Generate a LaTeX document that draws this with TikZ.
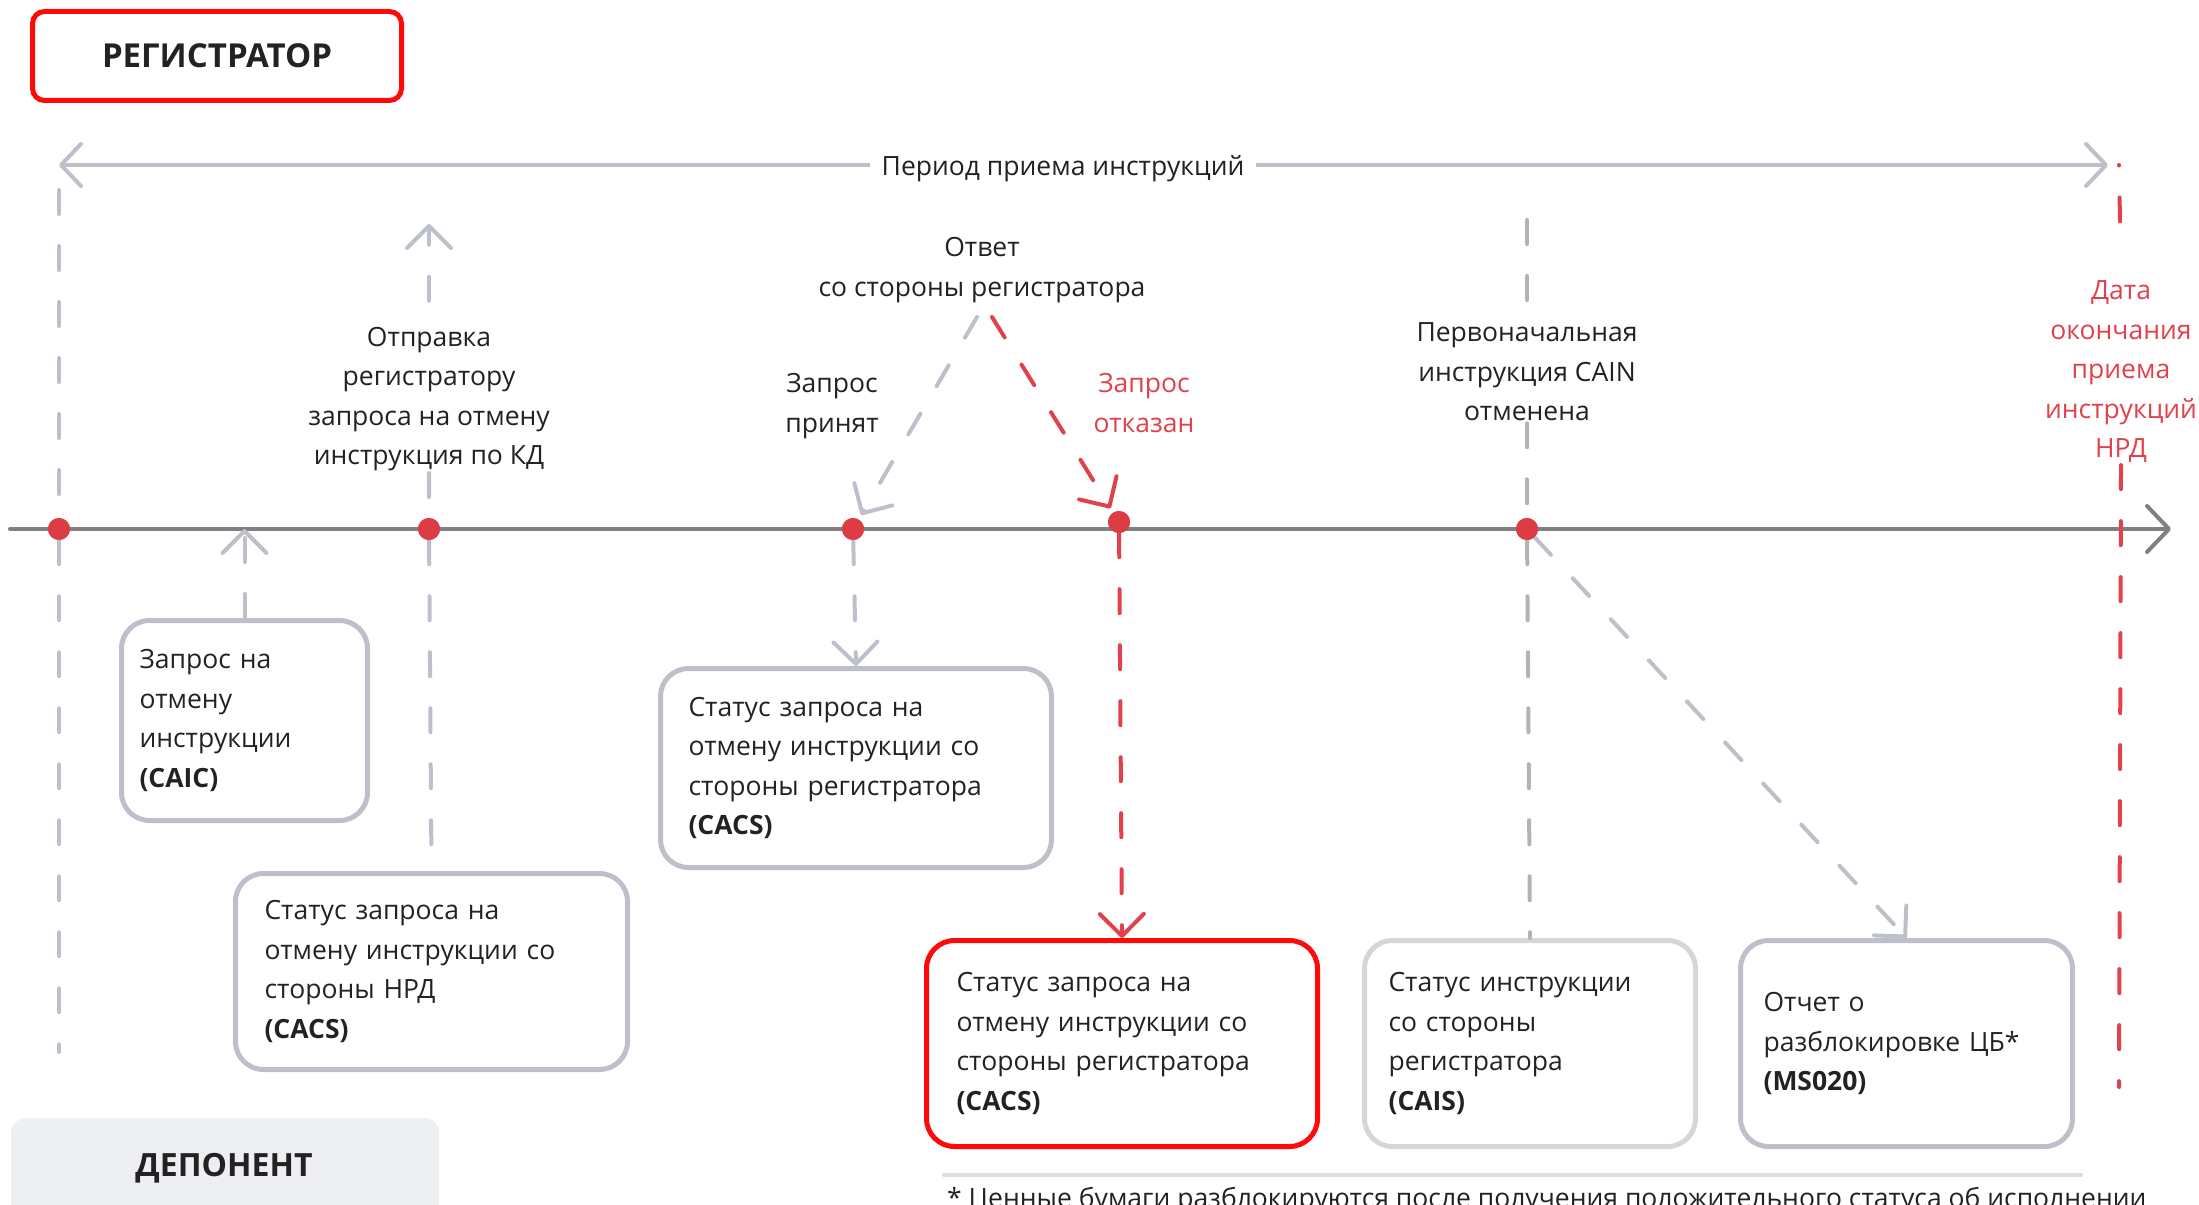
\documentclass[tikz,border=0pt]{standalone}
\usepackage{fontspec}
\setmainfont{Open Sans}
\usetikzlibrary{arrows.meta}
\definecolor{redd}{HTML}{DC3C44}
\definecolor{redt}{HTML}{E0414A}
\definecolor{redb}{HTML}{FF0A0A}
\definecolor{gb}{HTML}{BDBFCB}
\definecolor{tlc}{HTML}{808080}
\definecolor{lgb}{HTML}{D6D6D6}
\definecolor{ngr}{HTML}{B3B3B3}
\definecolor{txt}{HTML}{222222}
\definecolor{depfill}{HTML}{EEEFF3}
\definecolor{footl}{HTML}{DDDDDD}
\begin{document}
\begin{tikzpicture}[x=1pt,y=-1pt,
  font=\fontsize{26.5}{39.5}\selectfont, text=txt,
  dsh/.style={line width=4pt, line cap=round, dash pattern=on 24pt off 32pt},
  tipv/.style={-{Straight Barb[length=22pt,width=44pt,line cap=round,line join=round]}},
  evbox/.style={draw=gb, line width=5pt, rounded corners=28pt, anchor=north west, align=left, inner ysep=0pt},
  dotn/.style={circle, fill=redd, minimum size=22pt, inner sep=0pt},
  lbl/.style={align=center, inner sep=2pt}
]
\useasboundingbox (0,0) rectangle (2199,1204);
\clip (0,0) rectangle (2199,1204);

% header boxes
\node[draw=redb, line width=5pt, rounded corners=12pt, minimum width=369pt, minimum height=89pt,
      font=\fontsize{33}{40}\selectfont\bfseries] (reg) at (217,56) {РЕГИСТРАТОР};
\node[fill=depfill, rounded corners=14pt, minimum width=428pt, minimum height=120pt, anchor=north west] (depbox) at (11,1118) {};
\node[font=\fontsize{32}{38}\selectfont\bfseries] (dep) at (224,1168) {ДЕПОНЕНТ};

% period arrow
\coordinate (pl) at (59,165);
\coordinate (pr) at (2108,165);
\draw[gb, line width=4pt, line cap=round,
      {Straight Barb[length=20pt,width=42pt,line cap=round,line join=round]}-{Straight Barb[length=20pt,width=42pt,line cap=round,line join=round]}]
  (pl) -- (pr);
\node[fill=white, inner xsep=12pt] (per) at (1063,169) {Период приема инструкций};

% main timeline
\coordinate (ta) at (10,529);
\coordinate (tb) at (2171,529);
\draw[tlc, line width=4pt, line cap=round,
      -{Straight Barb[length=22pt,width=46pt,line cap=round,line join=round]}] (ta) -- (tb);

% event boxes
\node[evbox, minimum width=246pt, minimum height=200pt, inner xsep=18pt, text width=210pt] (b1) at (119,618)
  {Запрос на\\отмену\\инструкции\\\textbf{(CAIC)}};
\node[evbox, minimum width=392pt, minimum height=196pt, inner xsep=29pt, text width=334pt] (b2) at (233,871)
  {Статус запроса на\\отмену инструкции со\\стороны НРД\\\textbf{(CACS)}};
\node[evbox, minimum width=391pt, minimum height=199pt, inner xsep=28pt, text width=335pt] (b3) at (658,666)
  {Статус запроса на\\отмену инструкции со\\стороны регистратора\\\textbf{(CACS)}};
\node[evbox, draw=redb, minimum width=391pt, minimum height=206pt, inner xsep=30pt, text width=331pt] (b4) at (924,938)
  {Статус запроса на\\отмену инструкции со\\стороны регистратора\\\textbf{(CACS)}};
\node[evbox, draw=lgb, minimum width=331pt, minimum height=206pt, inner xsep=24pt, text width=283pt] (b5) at (1362,938)
  {Статус инструкции\\со стороны\\регистратора\\\textbf{(CAIS)}};
\node[evbox, minimum width=332pt, minimum height=206pt, inner xsep=23pt, text width=286pt] (b6) at (1738,938)
  {Отчет о\\разблокировке ЦБ*\\\textbf{(MS020)}};

% labels
\node[lbl] (otp) at (429,399) {Отправка\\регистратору\\запроса на отмену\\инструкция по КД};
\node[lbl] (otv) at (982,270) {Ответ\\со стороны регистратора};
\node[lbl] (prin) at (832,406) {Запрос\\принят};
\node[lbl, text=redt] (otk) at (1144,403) {Запрос\\отказан};
\node[lbl] (cain) at (1527,372) {Первоначальная\\инструкция CAIN\\отменена};
\node[lbl, text=redt] (data) at (2121,372) {Дата\\окончания\\приема\\инструкций\\НРД};

% dots
\node[dotn] (d1) at (59,529) {};
\node[dotn] (d2) at (429,529) {};
\node[dotn] (d3) at (853,529) {};
\node[dotn] (d4) at (1119,522) {};
\node[dotn] (d5) at (1527,529) {};

% vertical guides
\coordinate (v1a) at (59,190);
\coordinate (v1b) at (59,1052);
\draw[dsh, gb] (v1a) -- (d1) -- (v1b);
\coordinate (up1) at (429,224);
\draw[dsh, gb, tipv] ([yshift=24pt]otp.north) -- (up1);
\draw[dsh, gb] (otp.south) -- (d2) -- (b2.north);
\draw[dsh, gb, tipv] (b1.north) -- (b1.north |- d1.center);
\draw[dsh, gb, tipv] (d3) -- (b3.north);
\draw[dsh, redt, tipv] (d4) -- (b4.north);
\coordinate (c1) at (1527,220);
\draw[dsh, ngr] (c1) -- (cain.north);
\draw[dsh, ngr] (cain.south) -- (d5) -- (b5.north);
\draw[dsh, gb, tipv] (d5) -- (b6.north);
\coordinate (r1) at (2119,165);
\coordinate (r2) at (2119,1087);
\draw[redt, line width=4pt, line cap=round, dash pattern=on 0.5pt off 32pt on 24pt off 1000pt] (r1) -- (data.north);
\draw[dsh, redt] (data.south) -- (r2);

% response arrows
\coordinate (oa) at (977,317);
\coordinate (ob) at (992,317);
\draw[dsh, gb, tipv, shorten >=5pt] (oa) -- (d3);
\draw[dsh, redt, tipv, shorten >=5pt] (ob) -- (d4);

% redraw dots on top
\fill[redd] (d1) circle (11pt) (d2) circle (11pt) (d3) circle (11pt) (d4) circle (11pt) (d5) circle (11pt);

% footnote
\coordinate (fa) at (944,1175);
\coordinate (fb) at (2081,1175);
\draw[footl, line width=4pt, line cap=round] (fa) -- (fb);
\node[anchor=base west, inner sep=0pt] (foot) at (947,1207) {* Ценные бумаги разблокируются после получения положительного статуса об исполнении};
\end{tikzpicture}
\end{document}
